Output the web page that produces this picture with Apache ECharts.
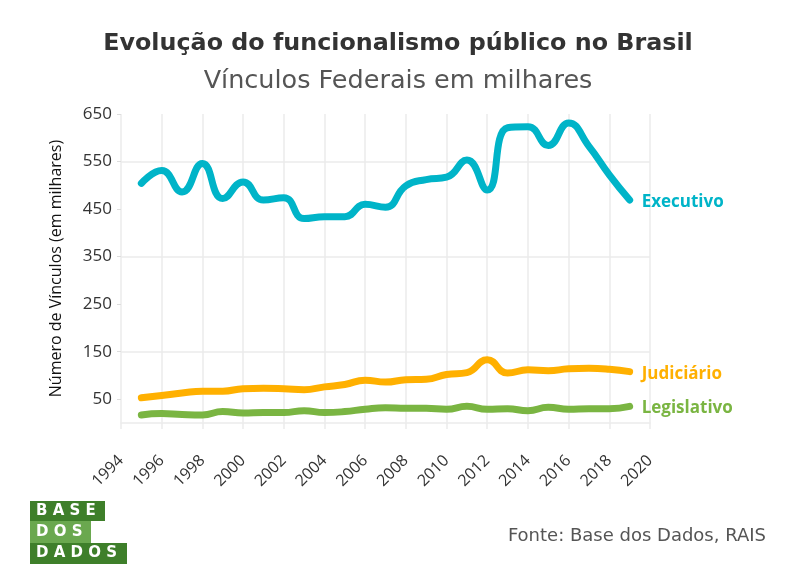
<!DOCTYPE html>
<html>
<head>
<meta charset="utf-8">
<script src="https://cdn.jsdelivr.net/npm/echarts@6/dist/echarts.min.js"></script>
<style>html,body{margin:0;padding:0;background:#fff}#c{width:796px;height:575px}</style>
</head>
<body>
<div id="c"></div>
<script>
const years = [1995,1996,1997,1998,1999,2000,2001,2002,2003,2004,2005,2006,2007,2008,2009,2010,2011,2012,2013,2014,2015,2016,2017,2018,2019];
const executivo = [504,531,486,546,472,507,469,474,430,434,434,460,454,499,512,517,553,490,621,623,584,631,582,522,469];
const judiciario = [53,58,63,67,67,72,73,72,70,76,81,90,86,91,92,102,106,133,105,112,110,114,115,113,108];
const legislativo = [17,20,18,17,24,21,22,22,26,22,24,29,32,31,31,29,35,29,30,26,33,29,30,30,35];
const yTickLabels = [50,150,250,350,450,550,650];
const seriesNames = ['Executivo','Judiciário','Legislativo'];
const colors = ['#00B4C8','#FFB000','#7AB542'];

const chart = echarts.init(document.getElementById('c'));
const pairs = arr => years.map((y,i)=>[y,arr[i]]);
const mk = (name, data, color) => ({
  name, type:'line', data: pairs(data), smooth:0.5, symbol:'none',
  lineStyle:{width:7,color:color,cap:'round',join:'round'}, itemStyle:{color},
  endLabel:{show:true,formatter:'{a}',color:color,fontWeight:'bold',fontSize:17,
    fontFamily:'"Open Sans", sans-serif',distance:12,offset:[0,2]},
  z:3
});
const tickFont = '"Open Sans", sans-serif';
chart.setOption({
  animation:false,
  grid:{left:121,right:146,top:114,bottom:152,containLabel:false},
  xAxis:{type:'value',min:1994,max:2020,interval:2,
    axisLine:{show:true,lineStyle:{color:'#ebebeb',width:1.5}},
    axisTick:{show:true,length:6,lineStyle:{color:'#ebebeb',width:1.5}},
    splitLine:{show:true,lineStyle:{color:'#ebebeb',width:1.5}},
    axisLabel:{rotate:45,color:'#333',fontSize:16,margin:35,fontFamily:tickFont,
      formatter:v=>String(v)}},
  yAxis:{type:'value',min:0,max:650,interval:50,
    name:'Número de Vínculos (em milhares)',nameLocation:'middle',nameGap:57,nameRotate:90,
    nameTextStyle:{fontSize:16,color:'#111',fontFamily:tickFont},
    axisLine:{show:false},
    axisTick:{show:true,length:4,customValues:yTickLabels,lineStyle:{color:'#ddd'}},
    splitLine:{show:true,lineStyle:{color:['transparent','#ebebeb'],width:1.5}},
    axisLabel:{customValues:yTickLabels,color:'#333',fontSize:17,margin:9,fontFamily:tickFont,
      formatter:v=>String(v)}},
  series:[mk(seriesNames[0],executivo,colors[0]),mk(seriesNames[1],judiciario,colors[1]),mk(seriesNames[2],legislativo,colors[2])],
  graphic:[
    {type:'text',x:398,y:44,style:{text:'Evolução do funcionalismo público no Brasil',fill:'#333',fontSize:23.8,fontWeight:'bold',
      fontFamily:'"DejaVu Sans", sans-serif',align:'center',verticalAlign:'middle'}},
    {type:'text',x:398,y:81,style:{text:'Vínculos Federais em milhares',fill:'#555',fontSize:25.5,fontWeight:'normal',
      fontFamily:'"DejaVu Sans", sans-serif',align:'center',verticalAlign:'middle'}},
    {type:'text',x:766,y:536,style:{text:'Fonte: Base dos Dados, RAIS',fill:'#555',fontSize:18,
      fontFamily:'"DejaVu Sans", sans-serif',align:'right',verticalAlign:'middle'}},
    {type:'rect',x:30,y:501,shape:{width:75,height:20},style:{fill:'#3E7F2A'}},
    {type:'rect',x:30,y:521,shape:{width:61,height:22},style:{fill:'#6AA84F'}},
    {type:'rect',x:30,y:543,shape:{width:97,height:21},style:{fill:'#3E7F2A'}},
    {type:'text',x:36,y:511,style:{text:'B A S E',fill:'#fff',fontSize:15,fontWeight:'bold',fontFamily:'"DejaVu Sans", sans-serif',verticalAlign:'middle'}},
    {type:'text',x:36,y:532,style:{text:'D O S',fill:'#fff',fontSize:15,fontWeight:'bold',fontFamily:'"DejaVu Sans", sans-serif',verticalAlign:'middle'}},
    {type:'text',x:36,y:553.5,style:{text:'D A D O S',fill:'#fff',fontSize:15,fontWeight:'bold',fontFamily:'"DejaVu Sans", sans-serif',verticalAlign:'middle'}}
  ]
});
</script>
</body>
</html>
